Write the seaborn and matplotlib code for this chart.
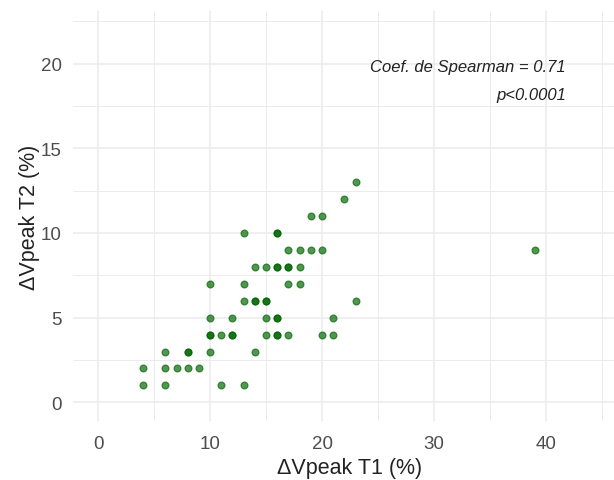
import matplotlib
matplotlib.use("Agg")
import matplotlib.pyplot as plt
import seaborn as sns
import pandas as pd
from matplotlib.ticker import MultipleLocator

# ---- data ----
dv_t1 = [23, 22, 19, 20, 13, 16, 16,
         17, 18, 19, 20,
         14, 15, 16, 16, 17, 17, 18,
         10, 13, 17, 18,
         13, 14, 14, 15, 15, 23,
         10, 12, 15, 16, 16, 21,
         10, 10, 11, 12, 12, 15, 16, 16, 17, 20, 21,
         6, 8, 8, 10, 14,
         4, 6, 7, 8, 9,
         4, 6, 11, 13,
         39]
dv_t2 = [13, 12, 11, 11, 10, 10, 10,
         9, 9, 9, 9,
         8, 8, 8, 8, 8, 8, 8,
         7, 7, 7, 7,
         6, 6, 6, 6, 6, 6,
         5, 5, 5, 5, 5, 5,
         4, 4, 4, 4, 4, 4, 4, 4, 4, 4, 4,
         3, 3, 3, 3, 3,
         2, 2, 2, 2, 2,
         1, 1, 1, 1,
         9]
x_ticks = [0, 10, 20, 30, 40]
y_ticks = [0, 5, 10, 15, 20]
x_label = "ΔVpeak T1 (%)"
y_label = "ΔVpeak T2 (%)"
annot_lines = ["Coef. de Spearman = 0.71", "p<0.0001"]

df = pd.DataFrame({"t1": dv_t1, "t2": dv_t2})

sns.set_theme(style="white")
plt.rcParams["font.family"] = ["Liberation Sans", "DejaVu Sans"]

W, H = 614, 481
fig = plt.figure(figsize=(W / 100, H / 100), dpi=100)
# panel: left 73px, right ~627px (cropped), top 12px, bottom 422px
left, right, top, bottom = 73, 627, 12, 422
ax = fig.add_axes([left / W, 1 - bottom / H, (right - left) / W, (bottom - top) / H])

sns.scatterplot(data=df, x="t1", y="t2", ax=ax, color="#006400", alpha=0.68,
                s=24, edgecolor="#006400", linewidth=0.9)

ax.set_xlim(-2.25, 47.25)
ax.set_ylim(-1.1, 23.1)
ax.set_xticks(x_ticks)
ax.set_yticks(y_ticks)
ax.xaxis.set_minor_locator(MultipleLocator(5))
ax.yaxis.set_minor_locator(MultipleLocator(2.5))
ax.grid(which="major", color="#ebebeb", linewidth=1.1)
ax.grid(which="minor", color="#ebebeb", linewidth=0.7)
ax.set_axisbelow(True)
for sp in ax.spines.values():
    sp.set_visible(False)
ax.tick_params(which="both", length=0)
ax.tick_params(axis="x", labelsize=13.5, labelcolor="#4d4d4d", pad=10)
ax.tick_params(axis="y", labelsize=13.5, labelcolor="#4d4d4d", pad=8)

ax.set_xlabel(x_label, fontsize=15.5, color="#222222", labelpad=4)
ax.set_ylabel(y_label, fontsize=15.5, color="#222222", labelpad=0.5)

ax.text(41.8, 19.8, annot_lines[0], ha="right", va="center", style="italic",
        fontsize=12, color="#222222")
ax.text(41.8, 18.2, annot_lines[1], ha="right", va="center", style="italic",
        fontsize=12, color="#222222")

fig.savefig("out.png", dpi=100, facecolor="white")
